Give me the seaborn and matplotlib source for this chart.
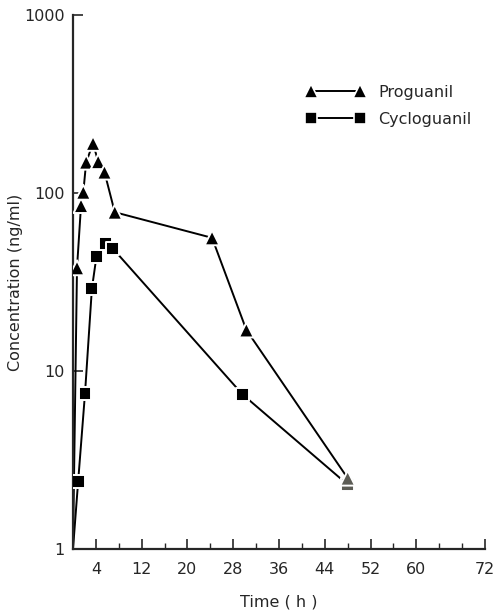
import numpy as np
import pandas as pd
import matplotlib
matplotlib.use("Agg")
import matplotlib.pyplot as plt
import seaborn as sns
from matplotlib.lines import Line2D
from matplotlib.ticker import FixedLocator, NullLocator

# date (prima valoare = t0, la limita de jos a axei)
prog_time = [0, 0.7, 1.4, 1.8, 2.3, 3.5, 4.4, 5.5, 7.3, 24.3, 30.3, 48]
prog_conc = [1, 38, 85, 101, 149, 190, 150, 131, 78, 56, 17, 2.5]
cyc_time = [0, 0.9, 2.1, 3.3, 4.1, 5.7, 6.9, 29.6, 48]
cyc_conc = [1, 2.4, 7.5, 29, 44, 52, 49, 7.4, 2.3]

x_major = [4, 12, 20, 28, 36, 44, 52, 60, 72]
x_minor = [8, 16, 24, 32, 40, 48, 56, 64, 68]
y_ticks = [1, 10, 100, 1000]
y_labels = ["1", "10", "100", "1000"]

prog = pd.DataFrame({"Time": prog_time, "Conc": prog_conc, "Drug": "Proguanil"})
cyc = pd.DataFrame({"Time": cyc_time, "Conc": cyc_conc, "Drug": "Cycloguanil"})

sns.set_style("ticks")
plt.rcParams["font.family"] = ["DejaVu Sans"]

fig = plt.figure(figsize=(4.95, 6.11), dpi=100)
ax = fig.add_axes([73 / 495, 1 - 549 / 611, (485 - 73) / 495, (549 - 15) / 611])

for df in (prog, cyc):
    sns.lineplot(data=df, x="Time", y="Conc", sort=False, estimator=None,
                 color="black", lw=1.4, ax=ax, legend=False)

# marcatori (fara t0), ultimul punct gri; triunghiurile deasupra
for df, m, s in ((cyc, "s", 85), (prog, "^", 115)):
    pts = df.iloc[1:]
    cols = ["black"] * (len(pts) - 1) + ["#5c5c55"]
    sns.scatterplot(x=pts["Time"], y=pts["Conc"], marker=m, s=s, c=cols,
                    edgecolor="white", linewidth=1.4, ax=ax, zorder=3, legend=False)

ax.set_yscale("log")
ax.set_xlim(0, 72)
ax.set_ylim(1, 1000)
ax.yaxis.set_major_locator(FixedLocator(y_ticks))
ax.yaxis.set_minor_locator(NullLocator())
ax.set_yticklabels(y_labels)
ax.xaxis.set_major_locator(FixedLocator(x_major))
ax.xaxis.set_minor_locator(FixedLocator(x_minor))
ax.tick_params(axis="both", which="major", direction="in", length=7, width=1.2,
               labelsize=11.5, pad=9)
ax.tick_params(axis="y", which="major", pad=6)
ax.tick_params(axis="x", which="minor", direction="in", length=4, width=1.0)
for sp in ("top", "right"):
    ax.spines[sp].set_visible(False)
for sp in ("left", "bottom"):
    ax.spines[sp].set_linewidth(1.6)

ax.set_xlabel("Time ( h )", fontsize=11.5, labelpad=13)
ax.set_ylabel("Concentration (ng/ml)", fontsize=11.5, labelpad=1)

handles = [
    Line2D([], [], color="black", lw=1.4, marker="^", markersize=10,
           markeredgecolor="white", markeredgewidth=1.2),
    Line2D([], [], color="black", lw=1.4, marker="s", markersize=9,
           markeredgecolor="white", markeredgewidth=1.2),
]
ax.legend(handles, ["Proguanil", "Cycloguanil"], numpoints=2, frameon=False,
          loc="upper left", bbox_to_anchor=(0.53, 0.896), fontsize=11.5,
          handlelength=3.7, labelspacing=0.75, handletextpad=0.85)

fig.savefig("out.png", dpi=100)
